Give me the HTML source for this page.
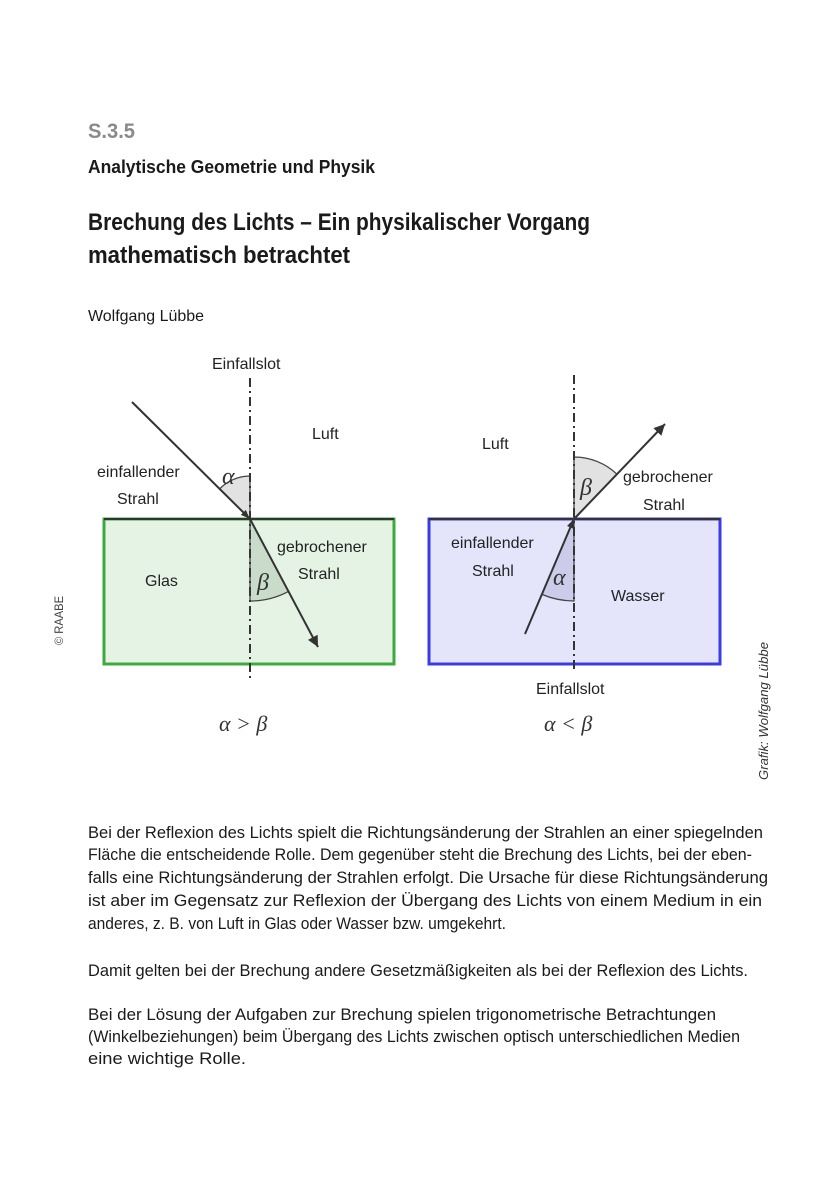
<!DOCTYPE html>
<html><head><meta charset="utf-8"><style>
html,body{margin:0;padding:0;background:#fff}
svg{display:block}
.b{font-family:"Liberation Sans",sans-serif;fill:#1a1a1a}
.d{font-family:"Liberation Sans",sans-serif;font-size:16px;fill:#222}
.m{font-family:"Liberation Serif",serif;font-style:italic;font-size:22px;fill:#333}
.g{font-family:"Liberation Serif",serif;font-style:italic;font-size:24px;fill:#333}
</style></head><body>
<svg width="840" height="1200" viewBox="0 0 840 1200" xmlns="http://www.w3.org/2000/svg">
<defs>
<marker id="ar" viewBox="0 0 10 10" refX="9" refY="5" markerWidth="9" markerHeight="9" markerUnits="userSpaceOnUse" orient="auto"><path d="M0,1 L10,5 L0,9 Z" fill="#333"/></marker>
<marker id="ar2" viewBox="0 0 10 10" refX="10" refY="5" markerWidth="16" markerHeight="11" markerUnits="userSpaceOnUse" orient="auto"><path d="M0,0 L10,5 L0,10 Z" fill="#333"/></marker>
</defs>
<text class="b" x="88" y="138" font-size="21" font-weight="bold" style="fill:#8a8a8a" textLength="47" lengthAdjust="spacingAndGlyphs">S.3.5</text>
<text class="b" x="88" y="173" font-size="18" font-weight="bold" textLength="287" lengthAdjust="spacingAndGlyphs">Analytische Geometrie und Physik</text>
<text class="b" x="88" y="230" font-size="24" font-weight="bold" textLength="502" lengthAdjust="spacingAndGlyphs">Brechung des Lichts – Ein physikalischer Vorgang</text>
<text class="b" x="88" y="263" font-size="24" font-weight="bold" textLength="262" lengthAdjust="spacingAndGlyphs">mathematisch betrachtet</text>
<text class="b" x="88" y="321" font-size="16" textLength="116" lengthAdjust="spacingAndGlyphs">Wolfgang Lübbe</text>

<rect x="104" y="519" width="290" height="145" fill="#e5f3e5" stroke="#3eaa3e" stroke-width="3"/>
<line x1="104" y1="519" x2="394" y2="519" stroke="#333" stroke-width="2"/>
<path d="M250,519 L250,476 A43,43 0 0,0 219.5,489 Z" fill="#e2e2e2" stroke="#444" stroke-width="1.3"/>
<path d="M250,519 L250,601 A82,82 0 0,0 288.5,591.4 Z" fill="#c9dcc9" stroke="#444" stroke-width="1.3"/>
<line x1="250" y1="378" x2="250" y2="678" stroke="#333" stroke-width="2" stroke-dasharray="9,4,2,4"/>
<line x1="132" y1="402" x2="249" y2="518" stroke="#333" stroke-width="2" marker-end="url(#ar)"/>
<line x1="250" y1="519" x2="318" y2="647" stroke="#333" stroke-width="2" marker-end="url(#ar2)"/>
<text class="d" x="212" y="369">Einfallslot</text>
<text class="d" x="312" y="439">Luft</text>
<text class="d" x="97" y="477">einfallender</text>
<text class="d" x="117" y="504">Strahl</text>
<text class="d" x="277" y="552">gebrochener</text>
<text class="d" x="298" y="579">Strahl</text>
<text class="d" x="145" y="586">Glas</text>
<text class="g" x="222" y="484">α</text>
<text class="g" x="257" y="590">β</text>
<text class="m" x="219" y="731">α &gt; β</text>

<rect x="429" y="519" width="291" height="145" fill="#e4e4fb" stroke="#3b3be6" stroke-width="3"/>
<line x1="429" y1="519" x2="720" y2="519" stroke="#333" stroke-width="2"/>
<path d="M574,519 L574,457 A62,62 0 0,1 616.9,474.2 Z" fill="#e2e2e2" stroke="#444" stroke-width="1.3"/>
<path d="M574,519 L574,601 A82,82 0 0,1 541.9,594.4 Z" fill="#ccccea" stroke="#444" stroke-width="1.3"/>
<line x1="574" y1="375" x2="574" y2="672" stroke="#333" stroke-width="2" stroke-dasharray="9,4,2,4"/>
<line x1="525" y1="634" x2="573.5" y2="520" stroke="#333" stroke-width="2" marker-end="url(#ar)"/>
<line x1="574" y1="519" x2="665" y2="424" stroke="#333" stroke-width="2" marker-end="url(#ar2)"/>
<text class="d" x="482" y="449">Luft</text>
<text class="d" x="623" y="482">gebrochener</text>
<text class="d" x="643" y="510">Strahl</text>
<text class="d" x="451" y="548">einfallender</text>
<text class="d" x="472" y="576">Strahl</text>
<text class="d" x="611" y="601">Wasser</text>
<text class="d" x="536" y="694">Einfallslot</text>
<text class="g" x="553" y="585">α</text>
<text class="g" x="580" y="495">β</text>
<text class="m" x="544" y="731">α &lt; β</text>

<text class="b" font-size="12" transform="translate(63,645) rotate(-90)" style="fill:#444" textLength="49" lengthAdjust="spacingAndGlyphs">© RAABE</text>
<text class="b" font-size="13" font-style="italic" transform="translate(768,780) rotate(-90)" style="fill:#333" textLength="138" lengthAdjust="spacingAndGlyphs">Grafik: Wolfgang Lübbe</text>

<g class="b" font-size="17">
<text x="88" y="838" textLength="675" lengthAdjust="spacingAndGlyphs">Bei der Reflexion des Lichts spielt die Richtungsänderung der Strahlen an einer spiegelnden</text>
<text x="88" y="860" textLength="664" lengthAdjust="spacingAndGlyphs">Fläche die entscheidende Rolle. Dem gegenüber steht die Brechung des Lichts, bei der eben-</text>
<text x="88" y="883" textLength="680" lengthAdjust="spacingAndGlyphs">falls eine Richtungsänderung der Strahlen erfolgt. Die Ursache für diese Richtungsänderung</text>
<text x="88" y="906" textLength="674" lengthAdjust="spacingAndGlyphs">ist aber im Gegensatz zur Reflexion der Übergang des Lichts von einem Medium in ein</text>
<text x="88" y="929" textLength="418" lengthAdjust="spacingAndGlyphs">anderes, z. B. von Luft in Glas oder Wasser bzw. umgekehrt.</text>
<text x="88" y="976" textLength="660" lengthAdjust="spacingAndGlyphs">Damit gelten bei der Brechung andere Gesetzmäßigkeiten als bei der Reflexion des Lichts.</text>
<text x="88" y="1020" textLength="628" lengthAdjust="spacingAndGlyphs">Bei der Lösung der Aufgaben zur Brechung spielen trigonometrische Betrachtungen</text>
<text x="88" y="1042" textLength="652" lengthAdjust="spacingAndGlyphs">(Winkelbeziehungen) beim Übergang des Lichts zwischen optisch unterschiedlichen Medien</text>
<text x="88" y="1064" textLength="158" lengthAdjust="spacingAndGlyphs">eine wichtige Rolle.</text>
</g>
</svg>
</body></html>
